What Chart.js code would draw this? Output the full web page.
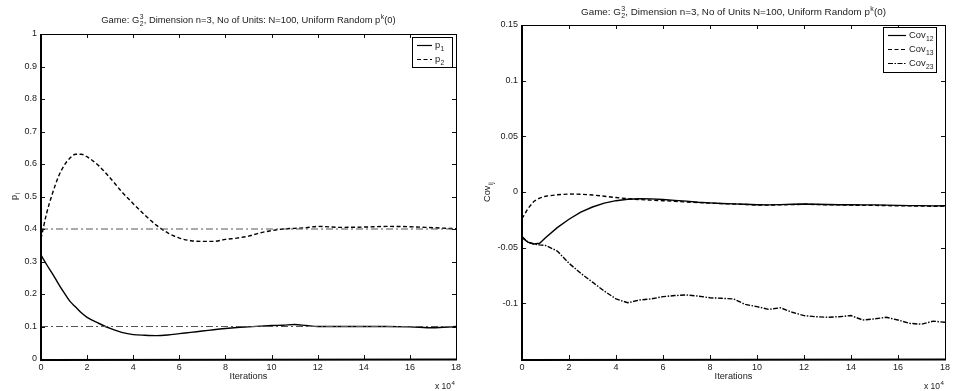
<!DOCTYPE html>
<html>
<head>
<meta charset="utf-8">
<script src="https://cdn.jsdelivr.net/npm/chart.js@4.4.1/dist/chart.umd.min.js"></script>
<style>
  html, body { margin: 0; padding: 0; background: #fff; }
  #wrap { position: relative; width: 953px; height: 391px; overflow: hidden; }
  canvas { position: absolute; top: 0; }
</style>
</head>
<body>
<div id="wrap">
  <canvas id="pChart" width="480" height="391" style="left:0"></canvas>
  <canvas id="covChart" width="473" height="391" style="left:480px"></canvas>
</div>
<script>
// ---- data (iterations in units of 10^4) ----
const iterP = [0, 0.25, 0.5, 0.75, 1, 1.25, 1.5, 1.75, 2, 2.5, 3, 3.5, 4, 4.5, 5, 5.5, 6, 6.5, 7, 7.5, 8, 8.5, 9, 9.5, 10, 10.5, 11, 11.5, 12, 13, 14, 15, 16, 17, 18];
const p1 = [0.32, 0.29, 0.262, 0.232, 0.204, 0.178, 0.160, 0.142, 0.128, 0.110, 0.094, 0.082, 0.075, 0.073, 0.072, 0.074, 0.078, 0.082, 0.086, 0.090, 0.094, 0.097, 0.099, 0.101, 0.103, 0.104, 0.106, 0.103, 0.100, 0.100, 0.100, 0.100, 0.099, 0.096, 0.100];
const p2 = [0.37, 0.45, 0.51, 0.56, 0.595, 0.618, 0.630, 0.630, 0.622, 0.595, 0.557, 0.515, 0.478, 0.443, 0.412, 0.388, 0.372, 0.364, 0.362, 0.362, 0.368, 0.372, 0.378, 0.388, 0.395, 0.400, 0.402, 0.404, 0.408, 0.405, 0.406, 0.408, 0.407, 0.404, 0.401];
const pEquilibrium = [0.4, 0.1];

const iterCov = [0, 0.25, 0.5, 0.75, 1, 1.5, 2, 2.5, 3, 3.5, 4, 4.5, 5, 5.5, 6, 6.5, 7, 7.5, 8, 8.5, 9, 9.5, 10, 10.5, 11, 11.5, 12, 12.5, 13, 13.5, 14, 14.5, 15, 15.5, 16, 16.5, 17, 17.5, 18];
const cov12 = [-0.041, -0.045, -0.0467, -0.046, -0.041, -0.032, -0.0245, -0.018, -0.0135, -0.010, -0.0078, -0.0065, -0.006, -0.0062, -0.0068, -0.0075, -0.0082, -0.0092, -0.0098, -0.0103, -0.0107, -0.011, -0.0114, -0.0116, -0.0113, -0.011, -0.0108, -0.011, -0.0112, -0.0114, -0.0115, -0.0116, -0.0116, -0.0118, -0.012, -0.0122, -0.0122, -0.0125, -0.0124];
const cov13 = [-0.024, -0.015, -0.0085, -0.0055, -0.0038, -0.0025, -0.0018, -0.002, -0.0027, -0.0038, -0.005, -0.006, -0.0068, -0.0073, -0.0078, -0.0083, -0.009, -0.0095, -0.0100, -0.0104, -0.0108, -0.0112, -0.0117, -0.0118, -0.0115, -0.0113, -0.011, -0.0112, -0.0115, -0.0116, -0.0118, -0.012, -0.012, -0.0122, -0.0124, -0.0125, -0.0126, -0.0128, -0.0127];
const cov23 = [-0.040, -0.045, -0.0467, -0.0475, -0.048, -0.053, -0.064, -0.073, -0.081, -0.089, -0.096, -0.0995, -0.097, -0.096, -0.094, -0.093, -0.0925, -0.0935, -0.095, -0.0955, -0.096, -0.101, -0.103, -0.1054, -0.104, -0.108, -0.111, -0.112, -0.1125, -0.112, -0.111, -0.115, -0.114, -0.1125, -0.115, -0.118, -0.1188, -0.116, -0.117];

const xTicks = [0, 2, 4, 6, 8, 10, 12, 14, 16, 18];
const pTicks = [0, 0.1, 0.2, 0.3, 0.4, 0.5, 0.6, 0.7, 0.8, 0.9, 1];
const covTicks = [-0.15, -0.1, -0.05, 0, 0.05, 0.1, 0.15];

// ---- text helpers (sub/superscripts) ----
const FAMILY = '"Liberation Sans", Arial, Helvetica, sans-serif';
const TXT = '#1a1a1a';
const font = s => s + 'px ' + FAMILY;

function richWidth(ctx, parts, size) {
  let w = 0;
  for (const p of parts) {
    if (p.t !== undefined) { ctx.font = font(size); w += ctx.measureText(p.t).width; }
    else {
      ctx.font = font(size * 0.72);
      w += Math.max(p.sup ? ctx.measureText(p.sup).width : 0, p.sub ? ctx.measureText(p.sub).width : 0) + 0.6;
    }
  }
  return w;
}
function drawRich(ctx, parts, x, y, size, align) {
  const w = richWidth(ctx, parts, size);
  let cx = align === 'center' ? x - w / 2 : align === 'right' ? x - w : x;
  ctx.textAlign = 'left';
  ctx.textBaseline = 'alphabetic';
  ctx.fillStyle = TXT;
  for (const p of parts) {
    if (p.t !== undefined) {
      ctx.font = font(size);
      ctx.fillText(p.t, cx, y);
      cx += ctx.measureText(p.t).width;
    } else {
      ctx.font = font(size * 0.72);
      let ww = 0;
      if (p.sup) { ctx.fillText(p.sup, cx + 0.4, y - size * 0.42); ww = Math.max(ww, ctx.measureText(p.sup).width); }
      if (p.sub) { ctx.fillText(p.sub, cx + 0.4, y + size * 0.32); ww = Math.max(ww, ctx.measureText(p.sub).width); }
      cx += ww + 0.6;
    }
  }
}

// ---- frame, inward ticks, titles, labels, legend ----
const decor = {
  id: 'decor',
  afterDraw(chart, args, o) {
    const ctx = chart.ctx;
    const a = chart.chartArea;
    const xs = chart.scales.x, ys = chart.scales.y;
    ctx.save();
    // inward tick marks on all four sides
    ctx.strokeStyle = '#111';
    ctx.lineWidth = 1;
    ctx.beginPath();
    xs.ticks.forEach((t, i) => {
      const px = Math.round(xs.getPixelForTick(i)) + 0.5;
      if (px - a.left < 2 || a.right - px < 2) return;
      ctx.moveTo(px, a.bottom); ctx.lineTo(px, a.bottom - 4);
      ctx.moveTo(px, a.top); ctx.lineTo(px, a.top + 4);
    });
    ys.ticks.forEach((t, i) => {
      const py = Math.round(ys.getPixelForTick(i)) + 0.5;
      if (py - a.top < 2 || a.bottom - py < 2) return;
      ctx.moveTo(a.left, py); ctx.lineTo(a.left + 4, py);
      ctx.moveTo(a.right, py); ctx.lineTo(a.right - 4, py);
    });
    ctx.stroke();
    // box
    ctx.strokeStyle = '#000';
    ctx.lineWidth = 1;
    ctx.strokeRect(Math.round(a.left) + 0.5, Math.round(a.top) + 0.5, Math.round(a.right - a.left), Math.round(a.bottom - a.top));
    ctx.lineWidth = 2;
    ctx.beginPath();
    ctx.moveTo(Math.round(a.left), a.top); ctx.lineTo(Math.round(a.left), a.bottom + 1);
    ctx.lineTo(a.right + 1, Math.round(a.bottom) + 0.5);
    ctx.stroke();

    // title
    const cx = (a.left + a.right) / 2;
    drawRich(ctx, o.title, cx, o.titleY, o.titleSize, 'center');
    // x label and exponent
    ctx.font = font(9.2); ctx.fillStyle = TXT; ctx.textAlign = 'center'; ctx.textBaseline = 'alphabetic';
    ctx.fillText('Iterations', cx, a.bottom + 20);
    drawRich(ctx, [{ t: 'x 10' }, { sup: '4' }], a.right - 1, a.bottom + 30, 8.5, 'right');
    // y label
    ctx.save();
    ctx.translate(o.yLabelX, (a.top + a.bottom) / 2);
    ctx.rotate(-Math.PI / 2);
    drawRich(ctx, o.yLabel, 0, 0, 9.2, 'center');
    ctx.restore();

    // legend
    const L = o.legend;
    const bx = a.right - L.right - L.w, by = a.top + L.top;
    ctx.fillStyle = '#fff';
    ctx.fillRect(bx, by, L.w, L.h);
    ctx.strokeStyle = '#000'; ctx.lineWidth = 1;
    ctx.strokeRect(Math.round(bx) + 0.5, Math.round(by) + 0.5, L.w, L.h);
    chart.data.datasets.forEach((ds, i) => {
      if (!ds.legendParts) return;
      const row = by + L.pad + L.rowH * (ds.legendRow + 0.5);
      ctx.save();
      ctx.strokeStyle = ds.borderColor; ctx.lineWidth = 1.2;
      ctx.setLineDash(ds.borderDash || []);
      ctx.beginPath();
      ctx.moveTo(bx + 5, Math.round(row) + 0.5); ctx.lineTo(bx + 5 + L.sample, Math.round(row) + 0.5);
      ctx.stroke();
      ctx.restore();
      drawRich(ctx, ds.legendParts, bx + 8 + L.sample, row + 3, 9.4, 'left');
    });
    ctx.restore();
  }
};

function series(xv, yv) { return xv.map((x, i) => ({ x, y: yv[i] })); }
function fmt(v) { return String(Number(v.toFixed(3))); }

function axes(yMin, yMax, yTicks, yWidth, hideLabels) {
  return {
    x: {
      type: 'linear', min: 0, max: 18,
      afterBuildTicks: s => { s.ticks = xTicks.map(v => ({ value: v })); },
      afterFit: s => { s.height = 32; },
      grid: { display: false, drawTicks: false },
      border: { display: false },
      ticks: { padding: 3, color: TXT, font: { family: FAMILY, size: 9 }, maxRotation: 0, autoSkip: false, callback: v => fmt(v) }
    },
    y: {
      type: 'linear', min: yMin, max: yMax,
      afterBuildTicks: s => { s.ticks = yTicks.map(v => ({ value: v })); },
      afterFit: s => { s.width = yWidth; },
      grid: { display: false, drawTicks: false },
      border: { display: false },
      ticks: { padding: 4, color: TXT, font: { family: FAMILY, size: 9 }, autoSkip: false,
        callback: v => (hideLabels.includes(v) ? '' : fmt(v)) }
    }
  };
}

const common = {
  responsive: false, animation: false, devicePixelRatio: 1,
  events: [],
  elements: { point: { radius: 0 } },
  plugins: { legend: { display: false }, tooltip: { enabled: false }, title: { display: false } }
};

// p_i chart
new Chart(document.getElementById('pChart'), {
  type: 'line',
  data: {
    datasets: [
      { data: series([0, 18], [pEquilibrium[0], pEquilibrium[0]]), borderColor: '#555', borderWidth: 1, borderDash: [7, 3, 2, 3] },
      { data: series([0, 18], [pEquilibrium[1], pEquilibrium[1]]), borderColor: '#555', borderWidth: 1, borderDash: [7, 3, 2, 3] },
      { data: series(iterP, p1), borderColor: '#000', borderWidth: 1.4, cubicInterpolationMode: 'monotone', legendParts: [{ t: 'p' }, { sub: '1' }], legendRow: 0 },
      { data: series(iterP, p2), borderColor: '#000', borderWidth: 1.4, borderDash: [4, 2.5], cubicInterpolationMode: 'monotone', legendParts: [{ t: 'p' }, { sub: '2' }], legendRow: 1 }
    ]
  },
  options: Object.assign({}, common, {
    layout: { padding: { left: 0, top: 34, right: 24, bottom: 0 } },
    scales: axes(0, 1, pTicks, 41, []),
    plugins: Object.assign({}, common.plugins, {
      decor: {
        title: [{ t: 'Game: G' }, { sup: '3', sub: '2' }, { t: ', Dimension n=3, No of Units: N=100, Uniform Random p' }, { sup: 'k' }, { t: '(0)' }],
        titleY: 23, titleSize: 9.4,
        yLabel: [{ t: 'p' }, { sub: 'i' }],
        yLabelX: 17,
        legend: { w: 40, h: 30, right: 4, top: 3, pad: 1, rowH: 14, sample: 15 }
      }
    })
  }),
  plugins: [decor]
});

// Cov_ij chart
new Chart(document.getElementById('covChart'), {
  type: 'line',
  data: {
    datasets: [
      { data: series(iterCov, cov12), borderColor: '#000', borderWidth: 1.4, legendParts: [{ t: 'Cov' }, { sub: '12' }], legendRow: 0 },
      { data: series(iterCov, cov13), borderColor: '#000', borderWidth: 1.4, borderDash: [4, 2.5], legendParts: [{ t: 'Cov' }, { sub: '13' }], legendRow: 1 },
      { data: series(iterCov, cov23), borderColor: '#000', borderWidth: 1.4, borderDash: [5, 1.5, 1.5, 1.5], legendParts: [{ t: 'Cov' }, { sub: '23' }], legendRow: 2 }
    ]
  },
  options: Object.assign({}, common, {
    layout: { padding: { left: 0, top: 25, right: 7, bottom: 0 } },
    scales: axes(-0.15, 0.15, covTicks, 42, [-0.15]),
    plugins: Object.assign({}, common.plugins, {
      decor: {
        title: [{ t: 'Game: G' }, { sup: '3', sub: '2' }, { t: ', Dimension n=3, No of Units N=100, Uniform Random p' }, { sup: 'k' }, { t: '(0)' }],
        titleY: 15, titleSize: 9.8,
        yLabel: [{ t: 'Cov' }, { sub: 'ij' }],
        yLabelX: 10,
        legend: { w: 53, h: 45, right: 9, top: 2, pad: 1, rowH: 14, sample: 18 }
      }
    })
  }),
  plugins: [decor]
});
</script>
</body>
</html>
